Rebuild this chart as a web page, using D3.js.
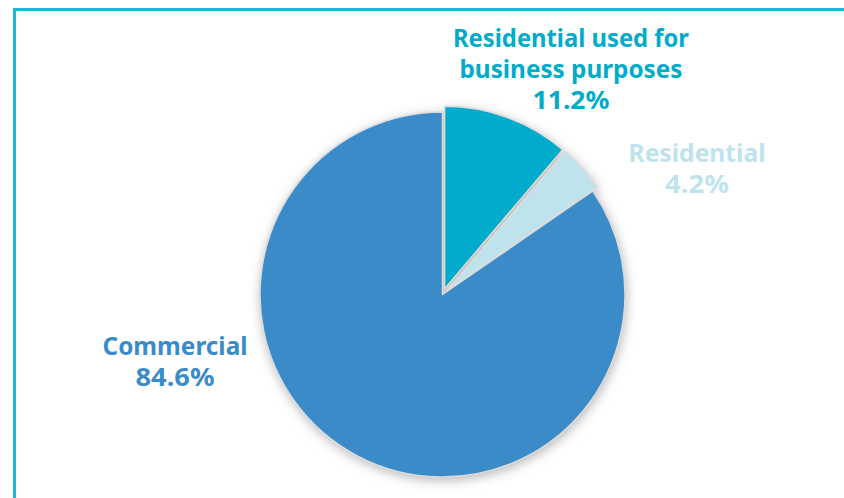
<!DOCTYPE html>
<html>
<head>
<meta charset="utf-8">
<script src="https://cdn.jsdelivr.net/npm/d3@7"></script>
<style>
  html, body { margin: 0; padding: 0; background: #fff; }
  svg { display: block; }
</style>
</head>
<body>
<svg id="chart" width="844" height="498"></svg>
<script>
// ---- Data ----
const categories = ["Residential used for business purposes", "Residential", "Commercial"];
const shares = [11.2, 4.2, 84.6];
const labelLines = [
  ["Residential used for", "business purposes"],
  ["Residential"],
  ["Commercial"]
];

// ---- Styles / layout ----
const colors = ["#00abcb", "#bfe3ed", "#3b8bc9"];
const labelColors = ["#00abcb", "#bfe3ed", "#3b8bc9"];
const explode = [6, 6, 0];
const W = 844, H = 498;
const cx = 442.5, cy = 294.5, R = 182.5;
// label anchor (text centre x, first baseline y) and target widths per line
const labelLayout = [
  { x: 571, y: 47, widths: [236, 223, 77] },
  { x: 697, y: 162, widths: [137, 64] },
  { x: 175, y: 355, widths: [145, 79] }
];
const lineGap = 31;

const svg = d3.select("#chart");

// frame
svg.append("rect")
  .attr("x", 14.5).attr("y", 9.5)
  .attr("width", W + 40).attr("height", H + 40)
  .attr("fill", "none")
  .attr("stroke", "#1bb7d5")
  .attr("stroke-width", 3);

const defs = svg.append("defs");
const f = defs.append("filter").attr("id", "shadow")
  .attr("x", "-20%").attr("y", "-20%").attr("width", "140%").attr("height", "140%");
f.append("feDropShadow")
  .attr("dx", 1).attr("dy", 3).attr("stdDeviation", 6)
  .attr("flood-color", "#000").attr("flood-opacity", 0.3);

const pie = d3.pie().sort(null).value(d => d)(shares);
const arc = d3.arc().innerRadius(0).outerRadius(R);

const g = svg.append("g").attr("transform", `translate(${cx},${cy})`);

// shadow layer
g.append("g").attr("filter", "url(#shadow)")
  .selectAll("path").data(pie).join("path")
  .attr("transform", (d, i) => {
    const a = (d.startAngle + d.endAngle) / 2;
    return `translate(${explode[i] * Math.sin(a)},${-explode[i] * Math.cos(a)})`;
  })
  .attr("d", arc)
  .attr("fill", "#fff");

g.append("g")
  .selectAll("path").data(pie).join("path")
  .attr("transform", (d, i) => {
    const a = (d.startAngle + d.endAngle) / 2;
    return `translate(${explode[i] * Math.sin(a)},${-explode[i] * Math.cos(a)})`;
  })
  .attr("d", arc)
  .attr("fill", (d, i) => colors[i])
  .attr("stroke", "#dcdcdc")
  .attr("stroke-width", 1.5)
  .attr("stroke-linejoin", "round");

// labels
const fmt = v => v.toFixed(1) + "%";
categories.forEach((c, i) => {
  const lines = labelLines[i].concat([fmt(shares[i])]);
  const L = labelLayout[i];
  const t = svg.append("text")
    .attr("text-anchor", "middle")
    .attr("font-family", "'Noto Sans', 'DejaVu Sans', sans-serif")
    .attr("font-weight", "bold")
    .attr("font-size", 25)
    .attr("fill", labelColors[i]);
  lines.forEach((ln, j) => {
    t.append("tspan")
      .attr("x", L.x)
      .attr("y", L.y + j * lineGap)
      .attr("textLength", L.widths[j])
      .attr("lengthAdjust", "spacingAndGlyphs")
      .text(ln);
  });
});
</script>
</body>
</html>
